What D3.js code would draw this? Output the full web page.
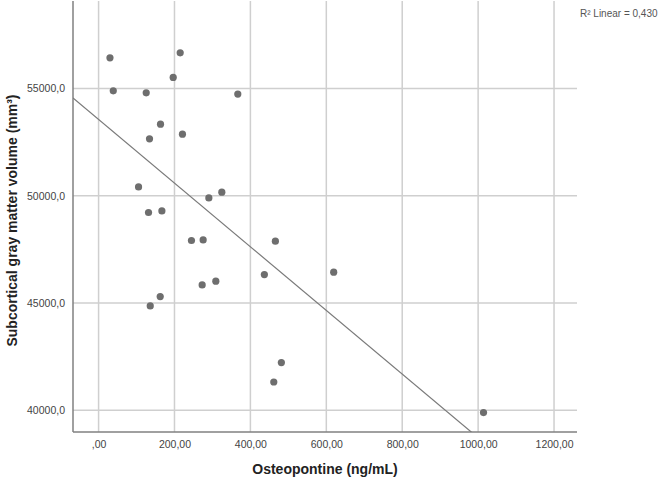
<!DOCTYPE html>
<html>
<head>
<meta charset="utf-8">
<script src="https://cdn.jsdelivr.net/npm/d3@7"></script>
<style>
  html, body { margin: 0; padding: 0; background: #fff; }
  svg { display: block; }
  text { font-family: "Liberation Sans", Arial, sans-serif; }
</style>
</head>
<body>
<script>
// ---- data ----
const osteopontine = [30.0, 215.0, 196.6, 38.7, 125.5, 366.8, 163.2, 134.2, 221.0, 105.3,
  290.5, 324.7, 131.6, 166.8, 244.7, 275.5, 465.8, 436.8, 619.5, 272.9,
  308.9, 162.4, 136.1, 481.6, 461.6, 1014.2];
const grayVolume = [56432, 56665, 55518, 54893, 54799, 54739, 53340, 52654, 52873, 50415,
  49902, 50168, 49221, 49296, 47915, 47943, 47882, 46329, 46437, 45844,
  46017, 45303, 44865, 42225, 41320, 39893];
const xTicks = [0, 200, 400, 600, 800, 1000, 1200];
const yTicks = [40000, 45000, 50000, 55000];
const xDomain = [-67.4, 1260.5];
const yDomain = [38988, 59080];
const r2Label = "R\u00B2 Linear = 0,430";
const xTitle = "Osteopontine (ng/mL)";
const yTitle = "Subcortical gray matter volume (mm\u00B3)";

// ---- layout ----
const W = 660, H = 481;
const margin = { left: 73, right: 83, top: 1, bottom: 49 };
const iw = W - margin.left - margin.right;
const ih = H - margin.top - margin.bottom;

const svg = d3.select("body").append("svg").attr("width", W).attr("height", H);
const g = svg.append("g").attr("transform", `translate(${margin.left},${margin.top})`);

const x = d3.scaleLinear().domain(xDomain).range([0, iw]);
const y = d3.scaleLinear().domain(yDomain).range([ih, 0]);

const fmtX = v => (v === 0 ? ",00" : d3.format(".2f")(v).replace(".", ","));
const fmtY = v => d3.format(".1f")(v).replace(".", ",");

// grid
g.append("g").selectAll("line.vx").data(xTicks).join("line")
  .attr("x1", d => x(d)).attr("x2", d => x(d)).attr("y1", 0).attr("y2", ih)
  .attr("stroke", "#cfcfcf").attr("stroke-width", 1.5);
g.append("g").selectAll("line.hy").data(yTicks).join("line")
  .attr("x1", 0).attr("x2", iw).attr("y1", d => y(d)).attr("y2", d => y(d))
  .attr("stroke", "#cfcfcf").attr("stroke-width", 1.5);

// axes
const xAxis = d3.axisBottom(x).tickValues(xTicks).tickFormat(fmtX).tickSize(0).tickPadding(9);
const yAxis = d3.axisLeft(y).tickValues(yTicks).tickFormat(fmtY).tickSize(0).tickPadding(8);
const gx = g.append("g").attr("transform", `translate(0,${ih})`).call(xAxis);
const gy = g.append("g").call(yAxis);
gx.select(".domain").attr("d", `M0,0H${iw}`).attr("stroke", "#808080").attr("stroke-width", 1.5);
gy.select(".domain").attr("d", `M0,${ih}V0`).attr("stroke", "#808080").attr("stroke-width", 1.5);
gx.selectAll("text").attr("font-size", 10.5).attr("fill", "#444").attr("font-family", "Liberation Sans, Arial, sans-serif");
gy.selectAll("text").attr("font-size", 10.5).attr("fill", "#444").attr("font-family", "Liberation Sans, Arial, sans-serif");

// regression line (least squares from the data), clipped to plot area
svg.append("defs").append("clipPath").attr("id", "clip")
  .append("rect").attr("width", iw).attr("height", ih);
const n = osteopontine.length;
const mx = d3.mean(osteopontine), my = d3.mean(grayVolume);
let sxy = 0, sxx = 0;
for (let i = 0; i < n; i++) {
  sxy += (osteopontine[i] - mx) * (grayVolume[i] - my);
  sxx += (osteopontine[i] - mx) ** 2;
}
const slope = sxy / sxx, intercept = my - slope * mx;
g.append("line").attr("clip-path", "url(#clip)")
  .attr("x1", x(xDomain[0])).attr("y1", y(intercept + slope * xDomain[0]))
  .attr("x2", x(xDomain[1])).attr("y2", y(intercept + slope * xDomain[1]))
  .attr("stroke", "#7a7a7a").attr("stroke-width", 1.2);

// points
g.append("g").selectAll("circle").data(osteopontine).join("circle")
  .attr("cx", d => x(d)).attr("cy", (d, i) => y(grayVolume[i]))
  .attr("r", 3.6).attr("fill", "#6e6e6e");

// titles
svg.append("text").attr("x", margin.left + iw / 2).attr("y", 474)
  .attr("text-anchor", "middle").attr("font-size", 14).attr("font-weight", "bold")
  .attr("fill", "#222").text(xTitle);
svg.append("text").attr("transform", `translate(17,${margin.top + ih / 2 + 4}) rotate(-90)`)
  .attr("text-anchor", "middle").attr("font-size", 14).attr("font-weight", "bold")
  .attr("fill", "#222").text(yTitle);

// R² annotation
svg.append("text").attr("x", 580).attr("y", 16.5)
  .attr("font-size", 10).attr("fill", "#555").text(r2Label);
</script>
</body>
</html>
